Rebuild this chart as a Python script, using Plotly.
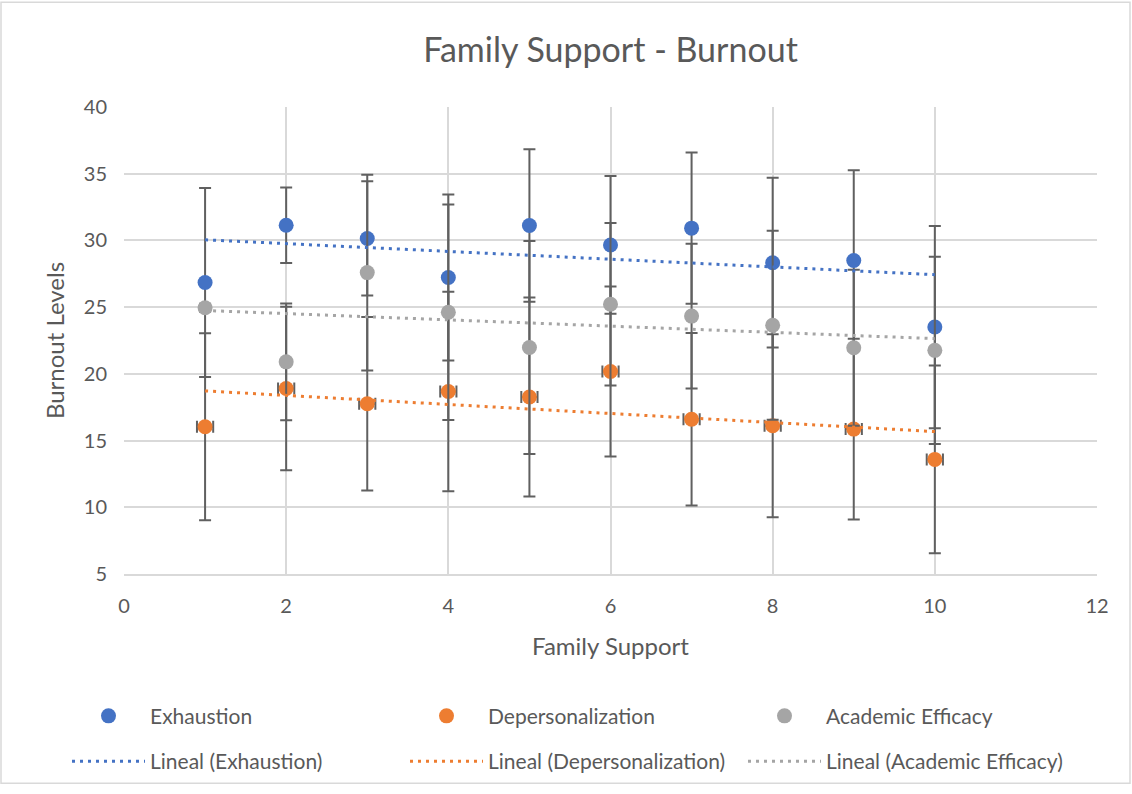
import numpy as np
import plotly.graph_objects as go

family_support = [1, 2, 3, 4, 5, 6, 7, 8, 9, 10]
exhaustion = [26.85, 31.14, 30.15, 27.22, 31.12, 29.66, 30.92, 28.33, 28.50, 23.51]
exhaustion_err = [7.08, 2.83, 4.28, 6.22, 5.72, 5.16, 5.67, 6.36, 6.76, 7.58]
depersonalization = [16.04, 18.90, 17.76, 18.68, 18.26, 20.18, 16.60, 16.11, 15.86, 13.59]
depersonalization_err = [7.01, 6.13, 6.50, 7.47, 7.46, 6.37, 6.47, 6.86, 6.77, 7.04]
depersonalization_xerr = [0.1] * 10
academic_efficacy = [24.95, 20.90, 27.59, 24.62, 21.98, 25.22, 24.33, 23.64, 21.96, 21.76]
academic_efficacy_err = [0.3, 4.37, 7.33, 8.08, 7.98, 6.09, 5.43, 7.08, 5.85, 7.01]

series = [
    ("Exhaustion", exhaustion, exhaustion_err, None, "#4472C4"),
    ("Depersonalization", depersonalization, depersonalization_err, depersonalization_xerr, "#ED7D31"),
    ("Academic Efficacy", academic_efficacy, academic_efficacy_err, None, "#A5A5A5"),
]

FONT = "Lato"
TXT = "#595959"
ERR = "#606060"

fig = go.Figure()
for name, vals, err, xerr, color in series:
    kw = {}
    if xerr is not None:
        kw["error_x"] = dict(type="data", array=xerr, visible=True, color=ERR, thickness=2, width=6)
    fig.add_trace(go.Scatter(
        x=family_support, y=vals, mode="markers", name=name,
        marker=dict(color=color, size=15),
        error_y=dict(type="data", array=err, visible=True, color=ERR, thickness=2, width=6),
        legend="legend", **kw))

for name, vals, err, xerr, color in series:
    slope, intercept = np.polyfit(family_support, vals, 1)
    xs = np.array(family_support, dtype=float)
    fig.add_trace(go.Scatter(
        x=xs, y=slope * xs + intercept, mode="lines", name=f"Lineal ({name})",
        line=dict(color=color, width=3, dash="3px,5px"),
        legend="legend2"))

W, H = 1132, 794
L, R, T, B = 124, 35, 107, 214
pw, ph = W - L - R, H - T - B

def px(xp):
    return (xp - L) / pw

def py(yp):
    return (H - B - yp) / ph

legend_common = dict(
    orientation="h", xanchor="left", yanchor="middle",
    font=dict(family=FONT, size=21, color=TXT),
    itemwidth=73, entrywidth=250, entrywidthmode="pixels",
    bgcolor="rgba(0,0,0,0)", itemclick=False, itemdoubleclick=False,
)

fig.update_layout(
    width=W, height=H,
    margin=dict(l=L, r=R, t=T, b=B),
    paper_bgcolor="white", plot_bgcolor="white",
    font=dict(family=FONT, color=TXT),
    title=dict(text="Family Support - Burnout", x=0.5, xref="paper", xanchor="center",
               y=1 - 50 / H, yanchor="middle",
               font=dict(family=FONT, size=34, color=TXT)),
    legend=dict(x=px(67), y=py(724), **legend_common),
    legend2=dict(x=px(67), y=py(770), **legend_common),
    xaxis=dict(range=[0, 12], dtick=2, tick0=0, showgrid=True, gridcolor="#d9d9d9", gridwidth=1.5,
               zeroline=False, showline=True, linecolor="#d9d9d9", linewidth=1.5, mirror=False,
               ticks="", tickfont=dict(family=FONT, size=20, color=TXT), ticklabelstandoff=13,
               title=dict(text="Family Support", font=dict(family=FONT, size=24, color=TXT), standoff=22)),
    yaxis=dict(range=[5, 40], dtick=5, tick0=5, showgrid=True, gridcolor="#d9d9d9", gridwidth=1.5,
               zeroline=False, showline=False,
               ticks="", tickfont=dict(family=FONT, size=20, color=TXT), ticklabelstandoff=16,
               title=dict(text="Burnout Levels", font=dict(family=FONT, size=24, color=TXT), standoff=12)),
    shapes=[dict(type="rect", xref="paper", yref="paper",
                 x0=px(1), x1=px(W - 2), y0=py(H - 2), y1=py(1),
                 line=dict(color="#d9d9d9", width=1.5), fillcolor="rgba(0,0,0,0)", layer="below")],
)

fig.write_html("out.html", config={"displayModeBar": False},
               post_script="document.body.style.margin='0';")
